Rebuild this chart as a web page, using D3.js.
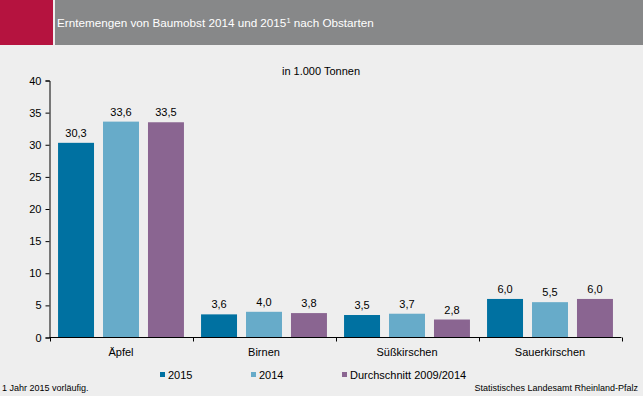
<!DOCTYPE html>
<html>
<head>
<meta charset="utf-8">
<script src="https://cdn.jsdelivr.net/npm/d3@7"></script>
<style>
  body { margin: 0; background: #eeeeee; }
  svg { display: block; font-family: Arial, "Liberation Sans", sans-serif; }
</style>
</head>
<body>
<div class="canvas"></div>
<script>
// data
const categories = ['Äpfel', 'Birnen', 'Süßkirschen', 'Sauerkirschen'];
const seriesNames = ['2015', '2014', 'Durchschnitt 2009/2014'];
const values2015 = [30.3, 3.6, 3.5, 6.0];
const values2014 = [33.6, 4.0, 3.7, 5.5];
const valuesAvg = [33.5, 3.8, 2.8, 6.0];
const yTicks = [0, 5, 10, 15, 20, 25, 30, 35, 40];

const colours = ['#0071a1', '#67abc9', '#8a6591'];
const seriesValues = [values2015, values2014, valuesAvg];

const width = 643, height = 396;

const svg = d3.select('.canvas')
    .append('svg')
    .attr('width', width)
    .attr('height', height);

// background
svg.append('rect').attr('width', width).attr('height', height).attr('fill', '#eeeeee');

// header band
svg.append('rect').attr('x', 0).attr('y', 0).attr('width', 53).attr('height', 45).attr('fill', '#b5133f');
svg.append('rect').attr('x', 55).attr('y', 0).attr('width', width - 55).attr('height', 45).attr('fill', '#878889');

const title = svg.append('text')
    .attr('x', 57)
    .attr('y', 27)
    .attr('fill', '#ffffff')
    .style('font-size', '11.7px');
title.append('tspan').text('Erntemengen von Baumobst 2014 und 2015');
title.append('tspan').attr('dy', -4).style('font-size', '7.5px').text('1');
title.append('tspan').attr('dy', 4).text(' nach Obstarten');

svg.append('text')
    .attr('x', 321)
    .attr('y', 75)
    .attr('text-anchor', 'middle')
    .style('font-size', '11px')
    .text('in 1.000 Tonnen');

// scales
const x0 = d3.scaleBand()
    .domain(categories)
    .range([49.5, 621.5])
    .paddingInner(0)
    .paddingOuter(0);

const x1 = d3.scaleBand()
    .domain(d3.range(seriesNames.length))
    .range([0, x0.bandwidth()])
    .paddingInner(0.2)
    .paddingOuter(0.19);

const y = d3.scaleLinear()
    .domain([0, 40])
    .range([337.5, 80.5]);

// y axis
const yAxis = d3.axisLeft(y)
    .tickValues(yTicks)
    .tickSize(4)
    .tickPadding(4)
    .tickFormat(d3.format('d'));

const yG = svg.append('g')
    .attr('transform', 'translate(49.5,0)')
    .call(yAxis);
yG.selectAll('text').style('font-size', '11px').attr('fill', '#000');
yG.selectAll('line, path').attr('stroke', '#000');

// bars
const groups = svg.append('g')
    .selectAll('g')
    .data(categories)
    .enter()
    .append('g')
    .attr('transform', d => `translate(${x0(d)},0)`);

groups.each(function (cat, ci) {
    const g = d3.select(this);
    const rows = seriesValues.map((vals, si) => ({ si, v: vals[ci] }));

    g.selectAll('rect')
        .data(rows)
        .enter()
        .append('rect')
        .attr('x', d => x1(d.si))
        .attr('y', d => y(d.v))
        .attr('width', x1.bandwidth())
        .attr('height', d => y(0) - y(d.v))
        .attr('fill', d => colours[d.si]);

    g.selectAll('text')
        .data(rows)
        .enter()
        .append('text')
        .attr('x', d => x1(d.si) + x1.bandwidth() / 2)
        .attr('y', d => y(d.v) - 6)
        .attr('text-anchor', 'middle')
        .style('font-size', '11px')
        .text(d => d3.format('.1f')(d.v).replace('.', ','));
});

// x axis
const xAxis = svg.append('g');
xAxis.append('line')
    .attr('x1', 49.5).attr('x2', 621.5)
    .attr('y1', y(0)).attr('y2', y(0))
    .attr('stroke', '#000');

const bounds = categories.map(c => x0(c)).concat([x0.range()[1]]);
xAxis.selectAll('.tick')
    .data(bounds)
    .enter()
    .append('line')
    .attr('x1', d => Math.round(d) + 0.5).attr('x2', d => Math.round(d) + 0.5)
    .attr('y1', y(0)).attr('y2', y(0) + 4)
    .attr('stroke', '#000');

xAxis.selectAll('text')
    .data(categories)
    .enter()
    .append('text')
    .attr('x', d => x0(d) + x0.bandwidth() / 2)
    .attr('y', 356)
    .attr('text-anchor', 'middle')
    .style('font-size', '11px')
    .text(d => d);

// legend
const legendX = [160, 251, 342];
const legend = svg.append('g')
    .selectAll('g')
    .data(seriesNames)
    .enter()
    .append('g')
    .attr('transform', (d, i) => `translate(${legendX[i]},372)`);

legend.append('rect')
    .attr('width', 5).attr('height', 5)
    .attr('fill', (d, i) => colours[i]);

legend.append('text')
    .attr('x', 8)
    .attr('y', 7)
    .style('font-size', '11px')
    .text(d => d);

// footer
svg.append('text')
    .attr('x', 2)
    .attr('y', 391)
    .style('font-size', '9px')
    .text('1 Jahr 2015 vorläufig.');

svg.append('text')
    .attr('x', 638)
    .attr('y', 391)
    .attr('text-anchor', 'end')
    .style('font-size', '9px')
    .text('Statistisches Landesamt Rheinland-Pfalz');
</script>
</body>
</html>
